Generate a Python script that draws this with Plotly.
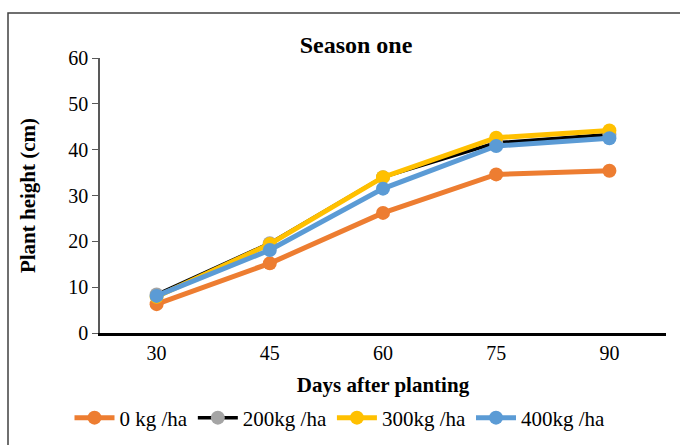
import plotly.graph_objects as go

days = ["30", "45", "60", "75", "90"]
s0 = [6.3, 15.2, 26.2, 34.6, 35.4]
s200 = [8.4, 19.6, 34.0, 41.5, 43.3]
s300 = [7.9, 19.4, 34.0, 42.6, 44.2]
s400 = [8.1, 18.1, 31.5, 40.8, 42.5]
names = ["0 kg /ha", "200kg /ha", "300kg /ha", "400kg /ha"]

series = [
    (names[0], s0, "#ED7D31", "#ED7D31", 5),
    (names[1], s200, "#000000", "#A5A5A5", 3.5),
    (names[2], s300, "#FFC000", "#FFC000", 5),
    (names[3], s400, "#5B9BD5", "#5B9BD5", 5),
]

fig = go.Figure()
for name, vals, lc, mc, lw in series:
    fig.add_trace(go.Scatter(
        x=days, y=vals, name=name, mode="lines+markers",
        line=dict(color=lc, width=lw),
        marker=dict(color=mc, size=14, line=dict(width=0)),
    ))

font = "Liberation Serif, serif"
fig.update_layout(
    width=680, height=445,
    margin=dict(l=100, r=14, t=58, b=112, autoexpand=False),
    paper_bgcolor="white", plot_bgcolor="white",
    font=dict(family=font, size=20, color="#000000"),
    title=dict(text="<b>Season one</b>", x=356/680, xref="container", xanchor="center",
               y=1-45/445, yref="container", yanchor="middle",
               font=dict(family=font, size=24, color="#000")),
    xaxis=dict(
        type="category", range=[-0.5, 4.5], showgrid=False, automargin=False,
        showline=True, linecolor="#000", linewidth=2.5, ticks="",
        tickfont=dict(family=font, size=20),
        title=dict(text="<b>Days after planting</b>", font=dict(family=font, size=21), standoff=17),
    ),
    yaxis=dict(
        range=[0, 60], dtick=10, showgrid=False, zeroline=False, automargin=False,
        showline=True, linecolor="#595959", linewidth=1.5,
        ticks="outside", ticklen=6, tickcolor="#595959",
        tickfont=dict(family=font, size=20),
        title=dict(text="<b>Plant height (cm)</b>", font=dict(family=font, size=21), standoff=27),
    ),
    legend=dict(
        orientation="h", xref="container", x=0.5, xanchor="center",
        yref="container", y=1-418/445, yanchor="middle",
        font=dict(family=font, size=21), itemwidth=40,
        traceorder="normal", tracegroupgap=0,
    ),
    showlegend=True,
)

fig.add_shape(type="rect", xref="paper", yref="paper",
              x0=-92/566, x1=1.1, y0=-0.6, y1=1+(58-13)/275,
              line=dict(color="#404040", width=1.5), fillcolor="rgba(0,0,0,0)", layer="below")

fig.write_html("out.html")
